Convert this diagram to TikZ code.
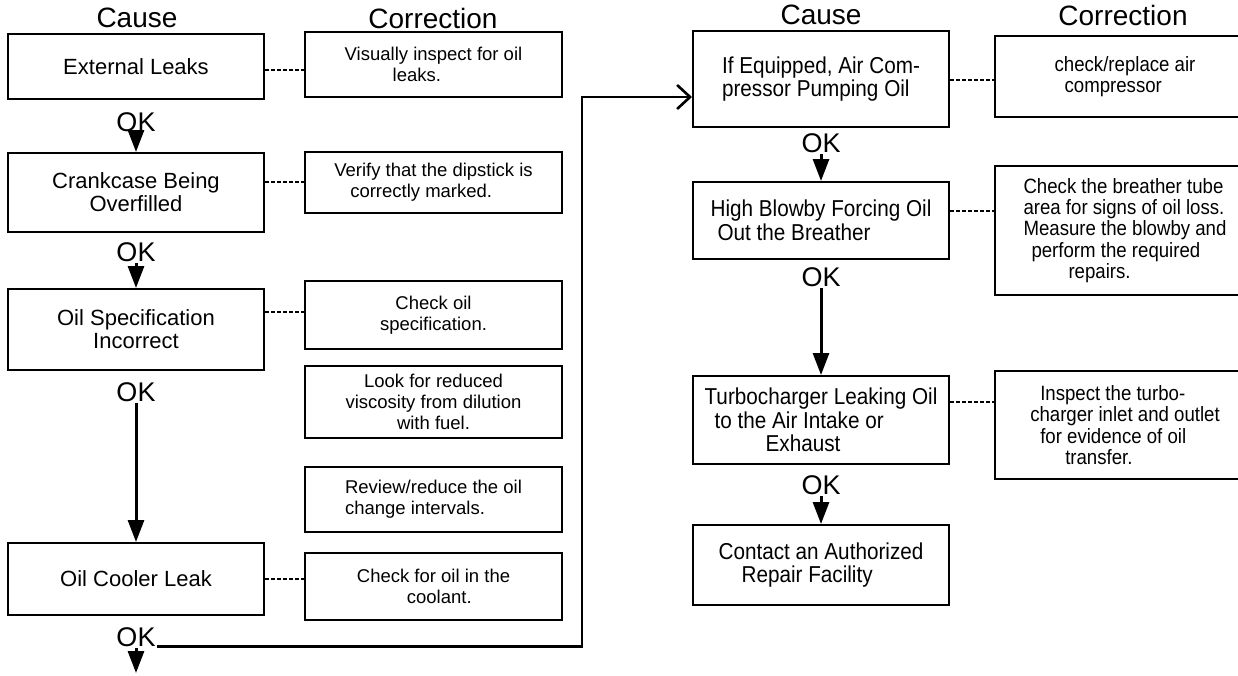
\documentclass[tikz,border=0pt]{standalone}
\usepackage{fontspec}
\setmainfont{Liberation Sans}
\newfontfamily\narrowfont[FakeStretch=0.9]{Liberation Sans}
\usetikzlibrary{arrows.meta}
\newcommand{\ind}[1]{\hspace*{#1pt}}
\begin{document}
\begin{tikzpicture}[x=1pt,y=-1pt,
  causebox/.style={draw, line width=2pt, minimum width=256pt, inner sep=0pt, align=center,
    font=\fontsize{22}{23}\selectfont},
  rcausebox/.style={causebox, align=left, font=\narrowfont\fontsize{23}{23.5}\selectfont},
  corrbox/.style={draw, line width=1.8pt, minimum width=257pt, inner sep=0pt, align=center,
    font=\fontsize{18.5}{21}\selectfont},
  rcorrbox/.style={corrbox, minimum width=260pt, align=left, font=\narrowfont\fontsize{20.7}{21.3}\selectfont},
  header/.style={font=\fontsize{28}{30}\selectfont, inner sep=0pt},
  oklabel/.style={font=\fontsize{27}{29}\selectfont, inner sep=1pt},
  okarrow/.style={line width=3pt, -{Triangle[length=22pt,width=16pt]}},
  link/.style={line width=1.6pt, dash pattern=on 4pt off 2pt},
  longarrow/.style={line width=2.6pt, -{Straight Barb[length=13pt,width=24pt]}}
]
\useasboundingbox (0,0) rectangle (1238,675);
\clip (0,0) rectangle (1238,675);

% headers
\node[header] (h1) at (137,18) {Cause};
\node[header] (h2) at (433,18) {Correction};
\node[header] (h3) at (821,15) {Cause};
\node[header] (h4) at (1123,15) {Correction};

% left cause boxes
\node[causebox, minimum height=65pt] (c1) at (136,66.5) {External Leaks};
\node[causebox, minimum height=79pt] (c2) at (136,192.5) {Crankcase Being\\Overfilled};
\node[causebox, minimum height=81pt] (c3) at (136,329.5) {Oil Specification\\Incorrect};
\node[causebox, minimum height=72pt] (c4) at (136,579) {Oil Cooler Leak};

% left correction boxes
\node[corrbox, align=left, minimum height=65pt] (k1) at (433.5,64.5) {Visually inspect for oil\\\ind{48}leaks.};
\node[corrbox, align=left, minimum height=61pt] (k2) at (433.5,182.5) {Verify that the dipstick is\\\ind{16}correctly marked.};
\node[corrbox, minimum height=68pt] (k3) at (433.5,315) {Check oil\\specification.};
\node[corrbox, minimum height=72pt] (k4) at (433.5,402) {Look for reduced\\viscosity from dilution\\with fuel.};
\node[corrbox, align=left, minimum height=65pt] (k5) at (433.5,499.5) {Review/reduce the oil\\change intervals.};
\node[corrbox, align=left, minimum height=67pt] (k6) at (433.5,586.5) {Check for oil in the\\\ind{50}coolant.};

% right cause boxes
\node[rcausebox, minimum height=96pt] (r1) at (821,79) {If Equipped, Air Com-\\pressor Pumping Oil};
\node[rcausebox, minimum height=77pt] (r2) at (821,220.5) {High Blowby Forcing Oil\\\ind{7}Out the Breather};
\node[rcausebox, minimum height=88pt] (r3) at (821,420) {Turbocharger Leaking Oil\\\ind{10}to the Air Intake or\\\ind{61}Exhaust};
\node[rcausebox, minimum height=80pt] (r4) at (821,565) {Contact an Authorized\\\ind{23}Repair Facility};

% right correction boxes
\node[rcorrbox, minimum height=81pt] (s1) at (1125,76.5) {check/replace air\\\ind{10}compressor};
\node[rcorrbox, minimum height=129pt] (s2) at (1125,230.5) {Check the breather tube\\area for signs of oil loss.\\Measure the blowby and\\\ind{8}perform the required\\\ind{45}repairs.};
\node[rcorrbox, minimum height=108pt] (s3) at (1125,425) {\ind{10}Inspect the turbo-\\charger inlet and outlet\\\ind{10}for evidence of oil\\\ind{35}transfer.};

% OK labels
\node[oklabel] (ok1) at (136,122) {OK};
\node[oklabel] (ok2) at (136,252) {OK};
\node[oklabel] (ok3) at (136,392) {OK};
\node[oklabel] (ok4) at (136,637) {OK};
\node[oklabel] (ok5) at (821,143) {OK};
\node[oklabel] (ok6) at (821,277) {OK};
\node[oklabel] (ok7) at (821,485) {OK};

% dashed links
\coordinate (d1) at (0,70);
\coordinate (d2) at (0,182);
\coordinate (d3) at (0,312);
\coordinate (d4) at (0,579);
\coordinate (d5) at (0,80);
\coordinate (d6) at (0,211);
\coordinate (d7) at (0,402);
\draw[link] (c1.east |- d1) -- (k1.west |- d1);
\draw[link] (c2.east |- d2) -- (k2.west |- d2);
\draw[link] (c3.east |- d3) -- (k3.west |- d3);
\draw[link] (c4.east |- d4) -- (k6.west |- d4);
\draw[link] (r1.east |- d5) -- (s1.west |- d5);
\draw[link] (r2.east |- d6) -- (s2.west |- d6);
\draw[link] (r3.east |- d7) -- (s3.west |- d7);

% flow arrows
\draw[okarrow] (ok1.south) -- (c2.north);
\draw[okarrow] (ok2.south) -- (c3.north);
\draw[okarrow] (ok3.south) -- (c4.north);
\coordinate (bend) at (136,673);
\draw[okarrow] (ok4.south) -- (bend);
\draw[okarrow] (ok5.south) -- (r2.north);
\draw[okarrow] (ok6.south) -- (r3.north);
\draw[okarrow] (ok7.south) -- (r4.north);

% long connector
\coordinate (vx) at (582,97);
\draw[longarrow] (ok4.base east) -| (vx) -- (r1.west |- vx);
\end{tikzpicture}
\end{document}
